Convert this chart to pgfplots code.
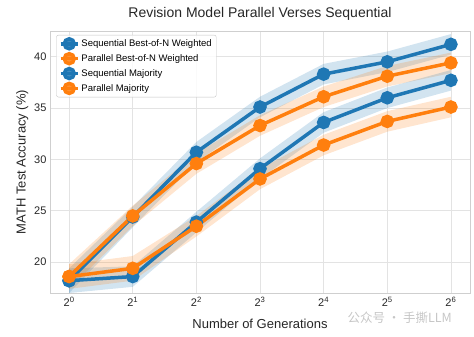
\documentclass[border=0pt]{standalone}
\usepackage{pgfplots}
\pgfplotsset{compat=1.18}
\usepackage{fontspec}
\setmainfont{Liberation Sans}
\newfontfamily\cjk{Noto Sans CJK SC}
\definecolor{tabblue}{HTML}{1F77B4}
\definecolor{taborange}{HTML}{FF7F0E}
\definecolor{gridgray}{HTML}{E3E3E3}
\definecolor{txtgray}{HTML}{262626}
\begin{document}
\begin{tikzpicture}
\begin{axis}[
  scale only axis,
  width=420bp, height=262bp,
  xmin=-0.3, xmax=6.3, ymin=17, ymax=42.5,
  xtick={0,1,2,3,4,5,6},
  xticklabels={2\textsuperscript{0},2\textsuperscript{1},2\textsuperscript{2},2\textsuperscript{3},2\textsuperscript{4},2\textsuperscript{5},2\textsuperscript{6}},
  ytick={20,25,30,35,40},
  /pgf/number format/assume math mode=true,
  major tick length=0pt,
  grid=major,
  grid style={gridgray, line width=0.8pt},
  axis line style={gridgray!80!gray, line width=0.8pt},
  tick label style={font=\fontsize{11bp}{13bp}\selectfont, text=txtgray},
  xticklabel style={yshift=-1bp},
  label style={font=\fontsize{13bp}{15bp}\selectfont, text=txtgray},
  xlabel={Number of Generations},
  ylabel={MATH Test Accuracy (\%)},
  xlabel style={yshift=-5bp},
  ylabel style={yshift=-1bp},
  title={Revision Model Parallel Verses Sequential},
  title style={font=\fontsize{14bp}{16bp}\selectfont, text=txtgray, yshift=1bp},
  legend style={at={(0.015,0.985)}, anchor=north west, font=\fontsize{9.5bp}{11bp}\selectfont,
    draw=gridgray!70!gray, rounded corners=2pt, fill=white, fill opacity=0.85, text opacity=1,
    row sep=2.5bp, inner sep=2.5bp},
  legend cell align=left,
]
% bands
\addplot[forget plot, fill=tabblue, fill opacity=0.2, draw=none] coordinates {
 (0,19.4) (1,25.4) (2,31.7) (3,36.1) (4,39.3) (5,40.5) (6,42.2)
 (6,40.2) (5,38.5) (4,37.3) (3,34.1) (2,29.7) (1,23.4) (0,17.0)} --cycle;
\addplot[forget plot, fill=taborange, fill opacity=0.2, draw=none] coordinates {
 (0,19.8) (1,25.5) (2,30.6) (3,34.3) (4,37.1) (5,39.1) (6,40.4)
 (6,38.4) (5,37.1) (4,35.1) (3,32.3) (2,28.6) (1,23.5) (0,17.4)} --cycle;
\addplot[forget plot, fill=tabblue, fill opacity=0.2, draw=none] coordinates {
 (0,19.4) (1,19.6) (2,24.9) (3,30.1) (4,34.6) (5,37.0) (6,38.7)
 (6,36.7) (5,35.0) (4,32.6) (3,28.1) (2,22.9) (1,17.6) (0,17.0)} --cycle;
\addplot[forget plot, fill=taborange, fill opacity=0.2, draw=none] coordinates {
 (0,19.8) (1,20.6) (2,24.5) (3,29.1) (4,32.4) (5,34.7) (6,36.1)
 (6,34.1) (5,32.7) (4,30.4) (3,27.1) (2,22.5) (1,18.2) (0,17.4)} --cycle;
% lines
\addplot[tabblue, line width=3.5bp, mark=*, mark size=5bp] coordinates {
 (0,18.2) (1,24.4) (2,30.7) (3,35.1) (4,38.3) (5,39.5) (6,41.2)};
\addlegendentry{Sequential Best-of-N Weighted}
\addplot[taborange, line width=3.5bp, mark=*, mark size=5bp] coordinates {
 (0,18.6) (1,24.5) (2,29.6) (3,33.3) (4,36.1) (5,38.1) (6,39.4)};
\addlegendentry{Parallel Best-of-N Weighted}
\addplot[tabblue, line width=3.5bp, mark=*, mark size=5bp] coordinates {
 (0,18.2) (1,18.6) (2,23.9) (3,29.1) (4,33.6) (5,36.0) (6,37.7)};
\addlegendentry{Sequential Majority}
\addplot[taborange, line width=3.5bp, mark=*, mark size=5bp] coordinates {
 (0,18.6) (1,19.4) (2,23.5) (3,28.1) (4,31.4) (5,33.7) (6,35.1)};
\addlegendentry{Parallel Majority}
\end{axis}
\node[anchor=west, text=gray!45, font=\cjk\fontsize{12.5bp}{14bp}\selectfont] at ([xshift=-126bp,yshift=-25bp]current axis.south east) {公众号 · 手撕LLM};
\pgfresetboundingbox
\path ([xshift=-50bp,yshift=-44bp]current axis.south west) rectangle ([xshift=4bp,yshift=31bp]current axis.north east);
\end{tikzpicture}
\end{document}
